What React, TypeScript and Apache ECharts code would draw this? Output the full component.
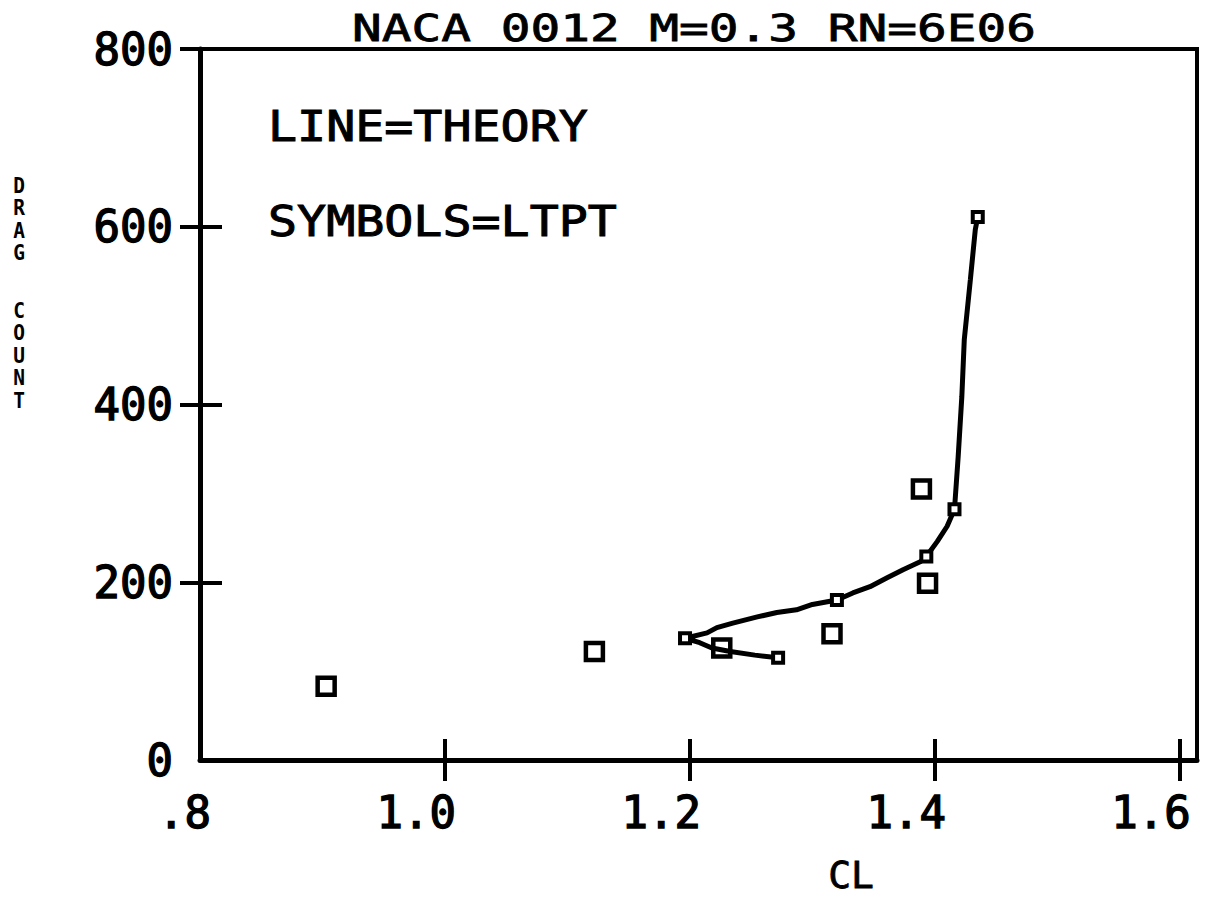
import React, { useEffect, useRef } from 'react';
import * as echarts from 'echarts';

// ---- data ----
const theoryCL = [1.272, 1.253, 1.233, 1.218, 1.208, 1.196, 1.214, 1.222, 1.235, 1.255, 1.271, 1.287, 1.300, 1.320, 1.333, 1.347, 1.361, 1.374, 1.388, 1.393, 1.402, 1.410, 1.416, 1.419, 1.422, 1.424, 1.429, 1.433, 1.435];
const theoryCD = [115, 118, 122, 126, 132, 137, 143, 149, 154, 161, 166, 169, 175, 180, 188, 195, 205, 214, 223, 229, 246, 263, 282, 341, 409, 473, 541, 597, 611];

const theoryMarkCL = [1.272, 1.196, 1.320, 1.393, 1.416, 1.435];
const theoryMarkCD = [115, 137, 180, 229, 282, 611];

const ltptCL = [0.903, 1.122, 1.226, 1.316, 1.389, 1.394];
const ltptCD = [83, 122, 126, 142, 305, 199];

const xTickValues = [0.8, 1.0, 1.2, 1.4, 1.6];
const xTickLabels = ['.8', '1.0', '1.2', '1.4', '1.6'];
const xTickMarks = [1.0, 1.2, 1.4, 1.6];
const yTickValues = [0, 200, 400, 600, 800];
const yTickLabels = ['0', '200', '400', '600', '800'];
const yTickMarks = [200, 400, 600, 800];

const titleText = 'NACA 0012 M=0.3 RN=6E06';
const legendLine = 'LINE=THEORY';
const legendSymbols = 'SYMBOLS=LTPT';
const yTitleA = 'DRAG';
const yTitleB = 'COUNT';
const xTitle = 'CL';

const MONO = '"DejaVu Sans Mono", monospace';

const pair = (xs: number[], ys: number[]) => xs.map((x, i) => [x, ys[i]]);
const lookup = (vals: number[], labels: string[]) => (v: number) => {
  const i = vals.findIndex((t) => Math.abs(t - v) < 1e-6);
  return i >= 0 ? labels[i] : '';
};

export default function App() {
  const ref = useRef<HTMLDivElement>(null);
  useEffect(() => {
    document.body.style.margin = '0';
    if (!ref.current) return;
    const chart = echarts.init(ref.current, undefined, { renderer: 'svg' });
    const black = '#000';
    const stack = (s: string) => s.split('').join('\n');
    const labelStyle = {
      color: black, fontFamily: MONO, fontWeight: 'normal', fontSize: 44,
      textBorderColor: black, textBorderWidth: 1.4,
    };
    const option: any = {
      animation: false,
      backgroundColor: '#fff',
      grid: {
        left: 200, top: 49, right: 13, bottom: 159,
        show: true, borderColor: black, borderWidth: 4, backgroundColor: 'transparent',
      },
      xAxis: [
        {
          type: 'value', min: 0.8, max: 1.614, position: 'bottom',
          axisLine: { show: true, onZero: false, lineStyle: { color: black, width: 5 } },
          axisTick: { show: true, inside: false, length: 21, customValues: xTickMarks, lineStyle: { color: black, width: 4 } },
          axisLabel: {
            ...labelStyle,
            customValues: xTickValues, formatter: lookup(xTickValues, xTickLabels),
            align: 'right', padding: [0, -11, 0, 0], margin: 30,
          },
          splitLine: { show: false },
        },
        {
          type: 'value', min: 0.8, max: 1.614, position: 'bottom',
          axisLine: { show: false, onZero: false },
          axisTick: { show: true, inside: true, length: 21, customValues: xTickMarks, lineStyle: { color: black, width: 4 } },
          axisLabel: { show: false },
          splitLine: { show: false },
        },
      ],
      yAxis: [
        {
          type: 'value', min: 0, max: 800, position: 'left',
          axisLine: { show: true, onZero: false, lineStyle: { color: black, width: 5 } },
          axisTick: { show: true, inside: false, length: 20, customValues: yTickMarks, lineStyle: { color: black, width: 4 } },
          axisLabel: {
            ...labelStyle,
            customValues: yTickValues, formatter: lookup(yTickValues, yTickLabels),
            margin: 27, padding: [0, 0, 8, 0],
          },
          splitLine: { show: false },
        },
        {
          type: 'value', min: 0, max: 800, position: 'left',
          axisLine: { show: false, onZero: false },
          axisTick: { show: true, inside: true, length: 22, customValues: yTickMarks, lineStyle: { color: black, width: 4 } },
          axisLabel: { show: false },
          splitLine: { show: false },
        },
      ],
      series: [
        {
          type: 'line', xAxisIndex: 0, yAxisIndex: 0,
          data: pair(theoryCL, theoryCD),
          showSymbol: false, symbol: 'none',
          lineStyle: { color: black, width: 5 },
          z: 3,
        },
        {
          type: 'scatter', xAxisIndex: 0, yAxisIndex: 0,
          data: pair(theoryMarkCL, theoryMarkCD),
          symbol: 'rect', symbolSize: 10,
          itemStyle: { color: '#fff', borderColor: black, borderWidth: 4, opacity: 1 },
          z: 4,
        },
        {
          type: 'scatter', xAxisIndex: 0, yAxisIndex: 0,
          data: pair(ltptCL, ltptCD),
          symbol: 'rect', symbolSize: 17,
          itemStyle: { color: 'rgba(255,255,255,0)', borderColor: black, borderWidth: 4.5, opacity: 1 },
          z: 5,
        },
      ],
      graphic: [
        {
          type: 'text', x: 352, y: 9, scaleX: 1.3,
          style: { text: titleText, font: `38px ${MONO}`, fill: black, stroke: black, lineWidth: 0.8, textAlign: 'left', textVerticalAlign: 'top' },
        },
        {
          type: 'text', x: 268, y: 106, scaleX: 1.15,
          style: { text: legendLine, font: `42px ${MONO}`, fill: black, stroke: black, lineWidth: 1, textAlign: 'left', textVerticalAlign: 'top' },
        },
        {
          type: 'text', x: 268, y: 201, scaleX: 1.15,
          style: { text: legendSymbols, font: `42px ${MONO}`, fill: black, stroke: black, lineWidth: 1, textAlign: 'left', textVerticalAlign: 'top' },
        },
        {
          type: 'text', x: 19, y: 174, scaleY: 1.125,
          style: { text: stack(yTitleA), font: `bold 19.5px ${MONO}`, lineHeight: 20, fill: black, textAlign: 'center', textVerticalAlign: 'top' },
        },
        {
          type: 'text', x: 19, y: 299, scaleY: 1.125,
          style: { text: stack(yTitleB), font: `bold 19.5px ${MONO}`, lineHeight: 20, fill: black, textAlign: 'center', textVerticalAlign: 'top' },
        },
        {
          type: 'text', x: 851, y: 856,
          style: { text: xTitle, font: `38px ${MONO}`, fill: black, stroke: black, lineWidth: 0.8, textAlign: 'center', textVerticalAlign: 'top' },
        },
      ],
    };
    chart.setOption(option);
    return () => chart.dispose();
  }, []);
  return <div ref={ref} style={{ width: 1210, height: 919 }} />;
}
